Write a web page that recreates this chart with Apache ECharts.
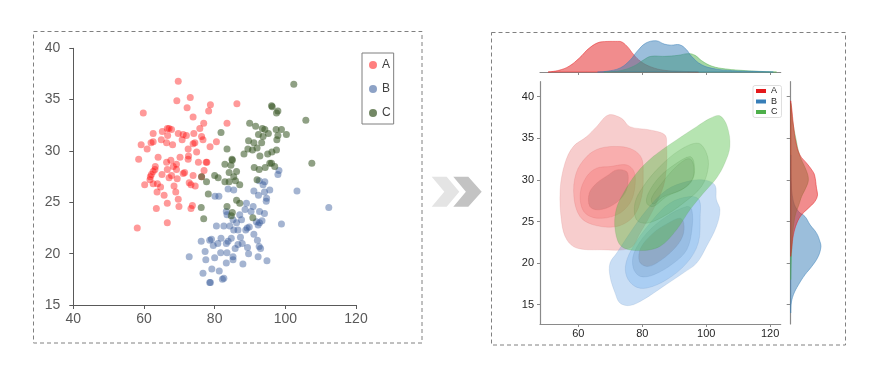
<!DOCTYPE html>
<html><head><meta charset="utf-8">
<script src="https://cdn.jsdelivr.net/npm/echarts@6/dist/echarts.min.js"></script>
<style>html,body{margin:0;padding:0;background:#fff}#c{width:884px;height:375px}</style>
</head><body><div id="c"></div>
<script>
// ---------- Left panel: scatter data ----------
const seriesNames = ['A', 'B', 'C'];
const scatterA = [[69.7,36.8],[69.3,34.9],[73.1,35.2],[72.2,34.2],[78.8,34.5],[78.3,33.9],[86.3,34.6],[59.8,33.7],[73.9,33.3],[76.9,32.7],[83.5,32.7],[62.6,31.7],[65.2,31.9],[66.6,32.2],[67.1,32.2],[67.8,32.1],[69.7,31.7],[71.1,31.6],[72.0,31.5],[74.1,31.7],[75.8,32.2],[76.3,31.4],[76.7,31.1],[74.4,30.8],[73.9,30.7],[70.8,31.1],[66.7,31.5],[62.6,30.9],[62.0,30.8],[64.9,31.1],[66.4,30.8],[68.1,30.6],[59.2,30.6],[60.9,30.2],[78.7,30.4],[80.5,30.9],[72.5,30.2],[74.9,29.9],[58.5,29.2],[64.0,29.4],[67.6,29.1],[70.2,29.4],[72.6,29.5],[72.5,29.2],[77.8,28.9],[77.6,28.9],[75.4,28.9],[66.4,28.9],[69.2,28.7],[68.3,28.5],[63.2,28.5],[63.1,28.2],[62.6,28.0],[62.1,27.7],[61.8,27.5],[61.7,27.2],[65.1,27.7],[66.6,28.2],[69.2,28.2],[71.1,27.8],[71.5,27.9],[73.9,27.6],[77.0,28.1],[76.3,27.5],[67.1,27.4],[67.8,27.6],[69.4,27.3],[62.6,26.8],[63.8,26.8],[60.2,26.7],[64.7,26.5],[68.5,26.6],[72.8,26.9],[73.3,26.7],[74.5,26.6],[63.7,26.0],[65.7,25.7],[69.0,26.0],[69.7,25.3],[73.7,24.7],[73.3,24.4],[69.9,24.6],[66.6,24.9],[63.5,24.4],[66.6,23.0],[58.1,22.5]];
const scatterB = [[112.3,24.5],[103.3,26.1],[98.9,22.9],[97.9,27.7],[98.2,28.1],[95.6,26.2],[94.2,27.0],[93.7,26.7],[92.6,27.1],[91.1,26.1],[92.4,25.7],[94.1,26.0],[94.7,25.4],[94.6,25.1],[83.8,26.3],[80.1,25.6],[81.2,25.6],[85.4,26.2],[89.0,24.9],[90.9,24.6],[90.3,24.1],[92.7,24.1],[94.1,23.9],[83.3,24.1],[83.5,23.8],[85.2,23.3],[87.1,23.8],[87.6,23.3],[86.2,23.0],[85.4,22.3],[84.3,22.7],[82.6,22.7],[80.5,22.7],[86.6,22.3],[88.8,22.3],[89.2,22.5],[91.8,23.1],[92.7,23.0],[93.4,23.2],[92.3,22.8],[91.1,21.9],[92.1,21.3],[92.6,20.7],[93.0,20.5],[89.3,20.6],[89.6,20.0],[92.3,19.7],[94.8,19.3],[88.0,19.0],[87.8,21.0],[86.6,20.9],[85.8,20.5],[87.3,21.6],[84.7,21.5],[83.8,21.2],[83.3,21.0],[81.8,21.5],[80.9,21.0],[79.1,21.4],[78.6,21.3],[76.2,21.2],[79.6,20.8],[81.7,20.1],[83.5,20.1],[85.2,19.7],[85.2,19.4],[83.3,19.1],[80.0,19.6],[77.5,19.4],[77.3,20.2],[72.8,19.7],[79.2,18.5],[81.3,18.3],[76.7,18.1],[78.6,17.2],[78.8,17.2],[82.2,17.5],[82.6,17.6],[88.6,24.3],[89.8,22.6]];
const scatterC = [[102.4,36.5],[96.1,34.4],[96.3,34.3],[97.9,33.9],[97.5,33.7],[105.8,33.0],[89.9,32.7],[91.6,32.4],[93.5,32.2],[94.2,32.1],[95.2,31.7],[92.4,31.6],[97.4,32.1],[98.9,32.1],[100.3,31.6],[97.9,31.5],[81.8,31.8],[93.7,31.4],[89.6,31.0],[91.1,30.8],[93.3,30.8],[97.6,31.1],[89.4,30.2],[90.7,30.1],[92.0,30.3],[97.5,30.1],[83.5,30.2],[88.3,29.7],[92.8,29.5],[95.0,29.7],[96.2,29.9],[95.6,28.8],[96.1,28.8],[97.0,28.5],[94.3,28.4],[91.2,28.4],[92.6,28.2],[107.5,28.8],[82.9,28.7],[84.6,28.6],[85.0,29.1],[84.9,29.2],[84.1,27.9],[86.2,28.0],[85.4,27.5],[85.9,27.1],[80.0,27.6],[81.0,27.4],[82.9,27.0],[84.1,27.0],[77.7,27.0],[76.3,27.5],[87.1,26.7],[92.0,27.2],[78.2,25.8],[86.2,25.2],[87.1,24.9],[76.2,24.5],[76.9,23.4],[83.5,24.6],[85.0,24.0],[84.7,23.7],[90.8,23.5]];
const leftXTicks = [40, 60, 80, 100, 120];
const leftYTicks = [15, 20, 25, 30, 35, 40];

// ---------- Right panel: KDE contour levels (outer -> inner) ----------
const contourA = [
  [[69.4,37.8],[73.5,37.4],[76.1,36.4],[82.4,36.0],[87.1,35.4],[87.6,34.0],[87.6,31.6],[86.6,29.2],[83.4,26.4],[79.3,23.6],[76.1,21.8],[66.8,21.6],[59.5,21.8],[56.4,22.8],[54.8,24.8],[54.3,28.8],[55.8,32.0],[58.4,34.0],[62.6,35.2],[65.7,36.4]],
  [[73.0,34.0],[77.2,33.6],[79.8,32.6],[80.3,30.8],[79.8,28.0],[77.2,25.6],[72.0,24.4],[64.7,24.6],[60.5,25.6],[58.6,28.0],[59.3,30.8],[62.6,32.8],[66.8,33.8]],
  [[69.9,31.6],[75.1,31.8],[77.4,31.0],[77.7,29.2],[76.1,27.2],[72.0,25.8],[65.7,25.4],[61.7,26.2],[60.6,28.4],[62.6,30.4],[65.7,31.4]],
  [[72.0,31.2],[75.1,31.0],[75.6,30.0],[74.6,28.4],[70.9,27.0],[66.3,26.4],[63.6,26.8],[63.4,28.4],[65.7,29.6],[69.4,30.6]]
];
const contourB = [
  [[99.1,30.0],[102.7,29.4],[103.2,27.6],[104.3,26.4],[103.2,24.4],[100.1,22.0],[97.0,20.0],[92.8,18.8],[86.6,17.2],[80.3,15.6],[76.1,14.9],[73.0,15.2],[71.5,16.4],[69.9,18.4],[69.9,20.0],[72.0,21.2],[76.1,23.6],[81.4,26.4],[87.6,28.8],[93.9,29.8]],
  [[94.9,28.0],[97.8,27.6],[98.1,25.6],[97.5,22.4],[93.9,20.0],[87.6,18.0],[81.4,17.0],[77.7,17.2],[75.1,18.4],[74.9,20.0],[77.2,22.0],[82.4,24.8],[88.6,27.2]],
  [[93.9,26.8],[95.5,26.4],[95.5,24.0],[93.9,21.6],[89.8,20.0],[83.6,18.6],[79.4,18.4],[77.2,19.4],[77.4,21.2],[81.4,23.6],[87.6,25.6]],
  [[91.8,25.4],[93.0,24.8],[92.6,23.2],[89.7,21.6],[84.5,20.0],[81.4,19.6],[79.1,20.2],[79.5,21.8],[83.4,23.6],[88.1,24.8]]
];
const contourC = [
  [[104.3,37.7],[106.6,36.4],[107.4,34.0],[105.8,32.0],[103.2,30.2],[99.1,28.4],[94.9,26.4],[90.7,24.0],[85.5,22.0],[79.3,21.5],[73.5,22.0],[71.5,24.0],[71.8,26.4],[74.1,28.4],[78.2,30.8],[83.4,32.8],[90.7,34.8],[97.0,36.4],[101.2,37.4]],
  [[97.5,34.4],[100.1,33.2],[100.6,31.4],[98.5,29.2],[92.8,27.2],[86.6,25.6],[81.4,24.8],[78.2,25.2],[77.7,27.2],[80.3,29.2],[85.5,31.6],[91.8,33.6]],
  [[94.9,32.8],[96.1,32.2],[96.1,30.4],[93.9,29.2],[87.6,28.0],[83.4,26.8],[81.4,27.2],[81.9,28.4],[85.5,30.4],[90.7,32.0]],
  [[95.0,32.5],[96.0,31.8],[95.8,30.2],[92.3,28.8],[86.6,28.0],[83.4,27.1],[82.9,27.8],[85.5,29.3],[89.6,31.2],[93.3,32.4]]
];
// marginal densities (relative units): top = [x, density], right = [density, y]
const densTopA = [[50.5,0],[53.9,0.05],[57.1,0.17],[60.3,0.41],[63.5,0.71],[66.7,0.88],[69.9,0.9],[73.1,0.9],[75.2,0.76],[77.3,0.51],[79.5,0.31],[82.7,0.15],[86.9,0.05],[92.2,0.02],[97.6,0]];
const densTopB = [[66,0],[68.8,0.02],[73.1,0.12],[76.3,0.36],[78.4,0.61],[81.1,0.85],[84.3,0.92],[86.9,0.82],[89.0,0.79],[91.7,0.80],[93.8,0.66],[95.4,0.46],[98.6,0.21],[102.9,0.09],[108.2,0.04],[114.6,0.02],[121,0]];
const densTopC = [[68,0],[73.1,0.04],[77.3,0.17],[80.5,0.36],[82.7,0.46],[86.9,0.46],[91.2,0.49],[94.4,0.54],[96.5,0.49],[98.6,0.33],[101.8,0.17],[106.1,0.09],[112.4,0.04],[118.8,0.01],[122,0]];
const densRightA = [[0,39.5],[0.03,38.6],[0.08,36.6],[0.15,34.6],[0.27,33.0],[0.47,32.0],[0.62,31.2],[0.70,30.6],[0.76,29.0],[0.79,28.2],[0.71,27.4],[0.52,26.6],[0.32,25.8],[0.18,24.8],[0.08,23.4],[0.03,21.8],[0,20.8]];
const densRightB = [[0,33],[0.01,30],[0.08,27.4],[0.23,26.2],[0.42,25.6],[0.57,24.6],[0.76,23.6],[0.86,22.6],[0.89,22.0],[0.81,20.8],[0.62,19.6],[0.42,18.6],[0.23,17.4],[0.08,16.2],[0.01,15.0],[0,14.0]];
const densRightC = [[0,39.2],[0.06,37],[0.15,35],[0.26,33],[0.47,31],[0.52,30],[0.44,29],[0.32,28],[0.24,27],[0.15,26],[0.10,25],[0.07,24],[0.035,22],[0.015,20],[0,18]];
const rightXTicks = [60, 80, 100, 120];
const rightYTicks = [15, 20, 25, 30, 35, 40];

// ---------- styling ----------
const scatterColors = ['rgba(255,0,0,0.5)', 'rgba(47,85,151,0.55)', 'rgba(55,86,35,0.7)'];
const kdeColors = ['#e41a1c', '#377eb8', '#4daf4a'];
const levelFillA = ['rgba(230,90,90,0.3)', 'rgba(255,95,95,0.28)', 'rgba(240,85,85,0.22)', 'rgba(170,100,100,0.3)'];
const levelFillB = ['rgba(100,160,225,0.35)', 'rgba(100,170,240,0.3)', 'rgba(110,150,190,0.28)', 'rgba(130,135,145,0.35)'];
const levelFillC = ['rgba(80,190,70,0.42)', 'rgba(70,150,60,0.15)', 'rgba(70,140,60,0.15)', 'rgba(90,120,80,0.13)'];
const levelStrokeA = 'rgba(200,60,60,0.18)';
const levelStrokeB = 'rgba(60,110,170,0.18)';
const levelStrokeC = 'rgba(60,130,50,0.18)';

function polyRender(polys, fills, strokes, smooth, constrain, lw) {
  return function (params, api) {
    const i = params.dataIndex;
    const pts = polys[i].map(p => api.coord(p));
    const shape = { points: pts, smooth: smooth };
    if (constrain) {
      const mn = [Infinity, Infinity], mx = [-Infinity, -Infinity];
      pts.forEach(p => { mn[0] = Math.min(mn[0], p[0]); mn[1] = Math.min(mn[1], p[1]); mx[0] = Math.max(mx[0], p[0]); mx[1] = Math.max(mx[1], p[1]); });
      shape.smoothConstraint = [mn, mx];
    }
    return { type: 'polygon', shape: shape, style: { fill: fills[i], stroke: strokes[i], lineWidth: lw } };
  };
}
function polySeries(name, polys, fills, stroke, xi, yi, smooth, constrain, lw) {
  return {
    type: 'custom', name: name, xAxisIndex: xi, yAxisIndex: yi, silent: true,
    data: polys.map(p => p[0]),
    renderItem: polyRender(polys, fills, polys.map(() => stroke), smooth, constrain, lw)
  };
}
function hexA(hex, a) {
  const n = parseInt(hex.slice(1), 16);
  return 'rgba(' + (n >> 16) + ',' + ((n >> 8) & 255) + ',' + (n & 255) + ',' + a + ')';
}

const chart = echarts.init(document.getElementById('c'), null, { renderer: 'canvas' });
const fontFam = 'Liberation Sans, Arial, sans-serif';
const rAxisColor = '#8a8a8a';
const rXMin = 48, rXMax = 123.3, rYMin = 12.68, rYMax = 41.8;

const option = {
  animation: false,
  backgroundColor: '#fff',
  textStyle: { fontFamily: fontFam },
  grid: [
    { left: 73.3, top: 48.3, width: 282.7, height: 256.7 },
    { left: 540, top: 81.7, width: 240.7, height: 242.3 },
    { left: 540, top: 38, width: 240.7, height: 34 },
    { left: 790.7, top: 81.7, width: 34, height: 242.3 }
  ],
  xAxis: [
    { gridIndex: 0, type: 'value', min: leftXTicks[0], max: leftXTicks[leftXTicks.length - 1], interval: 20,
      axisLine: { lineStyle: { color: '#595959', width: 1 } },
      axisTick: { show: true, length: 4, lineStyle: { color: '#595959' } },
      axisLabel: { color: '#595959', fontSize: 14, margin: 7, fontFamily: fontFam },
      splitLine: { show: false } },
    { gridIndex: 1, type: 'value', min: rXMin, max: rXMax,
      axisLine: { lineStyle: { color: rAxisColor, width: 1.2 } },
      axisTick: { show: true, length: 3, customValues: rightXTicks, lineStyle: { color: rAxisColor } },
      axisLabel: { customValues: rightXTicks, color: '#262626', fontSize: 11, margin: 4, fontFamily: fontFam },
      splitLine: { show: false } },
    { gridIndex: 2, type: 'value', min: rXMin, max: rXMax,
      axisLine: { lineStyle: { color: rAxisColor, width: 1.2 } },
      axisTick: { show: true, length: 3, customValues: rightXTicks, lineStyle: { color: rAxisColor } },
      axisLabel: { show: false }, splitLine: { show: false } },
    { gridIndex: 3, type: 'value', min: 0, max: 1, show: false }
  ],
  yAxis: [
    { gridIndex: 0, type: 'value', min: leftYTicks[0], max: leftYTicks[leftYTicks.length - 1], interval: 5,
      axisLine: { show: true, lineStyle: { color: '#595959', width: 1 } },
      axisTick: { show: true, length: 4, lineStyle: { color: '#595959' } },
      axisLabel: { color: '#595959', fontSize: 14, margin: 13, fontFamily: fontFam },
      splitLine: { show: false } },
    { gridIndex: 1, type: 'value', min: rYMin, max: rYMax,
      axisLine: { show: true, lineStyle: { color: rAxisColor, width: 1.2 } },
      axisTick: { show: true, length: 3, customValues: rightYTicks, lineStyle: { color: rAxisColor } },
      axisLabel: { customValues: rightYTicks, color: '#262626', fontSize: 11, margin: 6, fontFamily: fontFam },
      splitLine: { show: false } },
    { gridIndex: 2, type: 'value', min: 0, max: 1, show: false },
    { gridIndex: 3, type: 'value', min: rYMin, max: rYMax,
      axisLine: { show: true, lineStyle: { color: rAxisColor, width: 1.2 } },
      axisTick: { show: true, length: 4, customValues: rightYTicks, lineStyle: { color: rAxisColor } },
      axisLabel: { show: false }, splitLine: { show: false } }
  ],
  legend: [
    { orient: 'vertical', left: 362, top: 53, selectedMode: false,
      padding: [5, 3, 4, 7], itemGap: 10, itemWidth: 8, itemHeight: 8,
      borderColor: '#7f7f7f', borderWidth: 1,
      textStyle: { fontSize: 12, color: '#404040', lineHeight: 14, fontFamily: fontFam },
      data: seriesNames.map((n, i) => ({ name: n, icon: 'circle', itemStyle: { color: scatterColors[i], opacity: 1 } })) },
    { orient: 'vertical', left: 753, top: 85.5, selectedMode: false,
      padding: [1, 4, 1, 3], itemGap: 1.5, itemWidth: 10, itemHeight: 4,
      borderColor: '#d6d6d6', borderWidth: 0.8, borderRadius: 2, backgroundColor: 'rgba(255,255,255,0.85)',
      textStyle: { fontSize: 9, color: '#262626', lineHeight: 8.5, fontFamily: fontFam },
      data: seriesNames.map((n, i) => ({ name: n, icon: 'rect', itemStyle: { color: kdeColors[i], opacity: 1 } })) }
  ],
  graphic: [
    { type: 'rect', shape: { x: 33.5, y: 31.5, width: 388.5, height: 311.5 }, style: { fill: 'none', stroke: '#808080', lineWidth: 1, lineDash: [4, 3] }, silent: true },
    { type: 'rect', shape: { x: 491.5, y: 32.5, width: 354, height: 312.5 }, style: { fill: 'none', stroke: '#808080', lineWidth: 1, lineDash: [4, 3] }, silent: true },
    { type: 'polygon', shape: { points: [[431.7,176.7],[446.7,176.7],[459.3,191.7],[446.7,206.7],[431.7,206.7],[444.3,191.7]] }, style: { fill: '#e4e4e4' }, silent: true },
    { type: 'polygon', shape: { points: [[453.3,176.7],[468.3,176.7],[481.7,191.7],[468.3,206.7],[453.3,206.7],[465.9,191.7]] }, style: { fill: '#c3c3c3' }, silent: true }
  ],
  series: [
    { type: 'scatter', name: 'A', xAxisIndex: 0, yAxisIndex: 0, data: scatterA, symbolSize: 7, itemStyle: { color: scatterColors[0] } },
    { type: 'scatter', name: 'B', xAxisIndex: 0, yAxisIndex: 0, data: scatterB, symbolSize: 7, itemStyle: { color: scatterColors[1] } },
    { type: 'scatter', name: 'C', xAxisIndex: 0, yAxisIndex: 0, data: scatterC, symbolSize: 7, itemStyle: { color: scatterColors[2] } },
    polySeries('A', contourA, levelFillA, levelStrokeA, 1, 1, 0.35, false, 0.7),
    polySeries('B', contourB, levelFillB, levelStrokeB, 1, 1, 0.35, false, 0.7),
    polySeries('C', contourC, levelFillC, levelStrokeC, 1, 1, 0.35, false, 0.7),
    polySeries('A', [densTopA], [hexA(kdeColors[0], 0.5)], hexA(kdeColors[0], 0.6), 2, 2, 0.4, true, 0.8),
    polySeries('C', [densTopC], [hexA(kdeColors[2], 0.5)], hexA(kdeColors[2], 0.6), 2, 2, 0.4, true, 0.8),
    polySeries('B', [densTopB], [hexA(kdeColors[1], 0.5)], hexA(kdeColors[1], 0.6), 2, 2, 0.4, true, 0.8),
    polySeries('B', [densRightB], [hexA(kdeColors[1], 0.5)], hexA(kdeColors[1], 0.6), 3, 3, 0.4, true, 0.8),
    polySeries('C', [densRightC], [hexA(kdeColors[2], 0.45)], hexA(kdeColors[2], 0.5), 3, 3, 0.4, true, 0.8),
    polySeries('A', [densRightA], [hexA(kdeColors[0], 0.5)], hexA(kdeColors[0], 0.6), 3, 3, 0.4, true, 0.8)
  ]
};
chart.setOption(option);
</script></body></html>
